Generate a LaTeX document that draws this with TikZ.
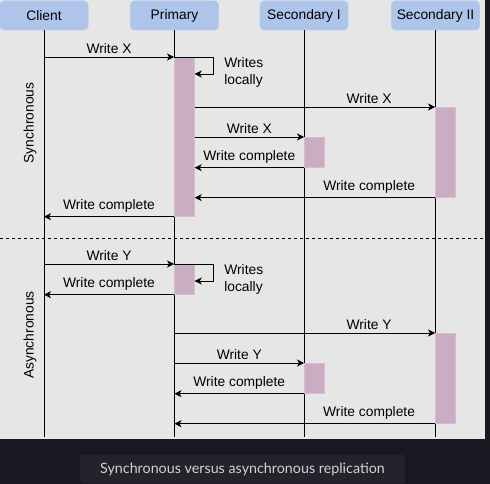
\documentclass[tikz,border=0pt]{standalone}
\usepackage{fontspec}
\setmainfont{Liberation Sans}
\newfontfamily\capfont{Lato}
\usetikzlibrary{arrows.meta}

\definecolor{bggray}{HTML}{E6E6E6}
\definecolor{darkbg}{HTML}{181920}
\definecolor{capfill}{HTML}{22232B}
\definecolor{captext}{HTML}{D2D2D5}
\definecolor{headblue}{HTML}{AFC4EA}
\definecolor{actpink}{HTML}{C8A6C0}

\tikzset{
  head/.style={rounded corners=4pt, fill=headblue, draw=headblue!90!white, minimum width=88pt, minimum height=29pt, inner sep=0pt},
  act/.style={fill=actpink, draw=actpink!75!white, fill opacity=0.9, minimum width=20pt, inner sep=0pt, anchor=north west},
  msg/.style={->},
  lbl/.style={above, inner sep=3.5pt},
  side/.style={rotate=90, inner sep=0pt}
}

\begin{document}
\begin{tikzpicture}[x=1pt, y=-1pt, >={Stealth[length=7pt,width=7pt,inset=2pt]}, font=\fontsize{13.8}{16.5}\selectfont, line join=round, line width=0.7pt]
  \def\xc{44} \def\xp{174} \def\xs{304} \def\xt{435}
  \useasboundingbox (0,0) rectangle (490,484);
  \fill[darkbg] (0,0) rectangle (490,484);
  \fill[bggray] (0,0) rectangle (485,439);
  \coordinate (bottom) at (0,437);

  % lifelines
  \node[head] (client) at (\xc,15.5) {Client};
  \node[head] (primary) at (\xp+0.5,15.5) {Primary};
  \node[head] (sec1) at (\xs,15.5) {Secondary I};
  \node[head] (sec2) at (\xt+0.5,15.5) {Secondary II};
  \foreach \n in {client,primary,sec1,sec2}
    \draw (\n.south) -- (\n.south |- bottom);

  % synchronous
  \node[act, minimum height=159pt] (actP1) at (\xp,57) {};
  \node[act, minimum height=90pt] (actT1) at (\xt,107) {};
  \node[act, minimum height=30pt] (actS1) at (\xs,137) {};
  \draw[msg] (actP1.north west -| client) -- node[lbl] {Write X} (actP1.north west);
  \draw[msg] (actP1.north west) -- ++(39,0) |- ([yshift=-17pt]actP1.north east);
  \node[anchor=west, align=left, inner sep=0pt] (loc1) at (224,72.5) {Writes\\locally};
  \draw[msg] (actP1.east |- actT1.north) -- node[lbl, pos=0.726] {Write X} (actT1.north west);
  \draw[msg] (actP1.east |- actS1.north) -- node[lbl] {Write X} (actS1.north west);
  \draw[msg] (actS1.south west) -- node[lbl] {Write complete} (actS1.south west -| actP1.east);
  \draw[msg] (actT1.south west) -- node[lbl, pos=0.274] {Write complete} (actT1.south west -| actP1.east);
  \draw[msg] (actP1.south west) -- node[lbl] {Write complete} (actP1.south west -| client);
  \node[side] (sync) at (30,123) {Synchronous};

  \draw[dash pattern=on 3pt off 3pt] (0,238) -- (485,238);

  % asynchronous
  \node[act, minimum height=30pt] (actP2) at (\xp,264) {};
  \node[act, minimum height=90pt] (actT2) at (\xt,333) {};
  \node[act, minimum height=30pt] (actS2) at (\xs,363) {};
  \draw[msg] (actP2.north west -| client) -- node[lbl] {Write Y} (actP2.north west);
  \draw[msg] (actP2.north west) -- ++(39,0) |- ([yshift=-17pt]actP2.north east);
  \node[anchor=west, align=left, inner sep=0pt] (loc2) at (224,279.5) {Writes\\locally};
  \draw[msg] (actP2.south west) -- node[lbl] {Write complete} (actP2.south west -| client);
  \draw[msg] (actT2.north west -| primary) -- node[lbl, pos=0.747] {Write Y} (actT2.north west);
  \draw[msg] (actS2.north west -| primary) -- node[lbl] {Write Y} (actS2.north west);
  \draw[msg] (actS2.south west) -- node[lbl] {Write complete} (actS2.south west -| primary);
  \draw[msg] (actT2.south west) -- node[lbl, pos=0.253] {Write complete} (actT2.south west -| primary);
  \node[side] (async) at (30,335) {Asynchronous};

  % caption
  \node[fill=capfill, rounded corners=3pt, minimum width=325pt, minimum height=29pt, text=captext, font=\capfont\fontsize{14.3}{16}\selectfont] (caption) at (242.5,469) {Synchronous versus asynchronous replication};
\end{tikzpicture}
\end{document}
